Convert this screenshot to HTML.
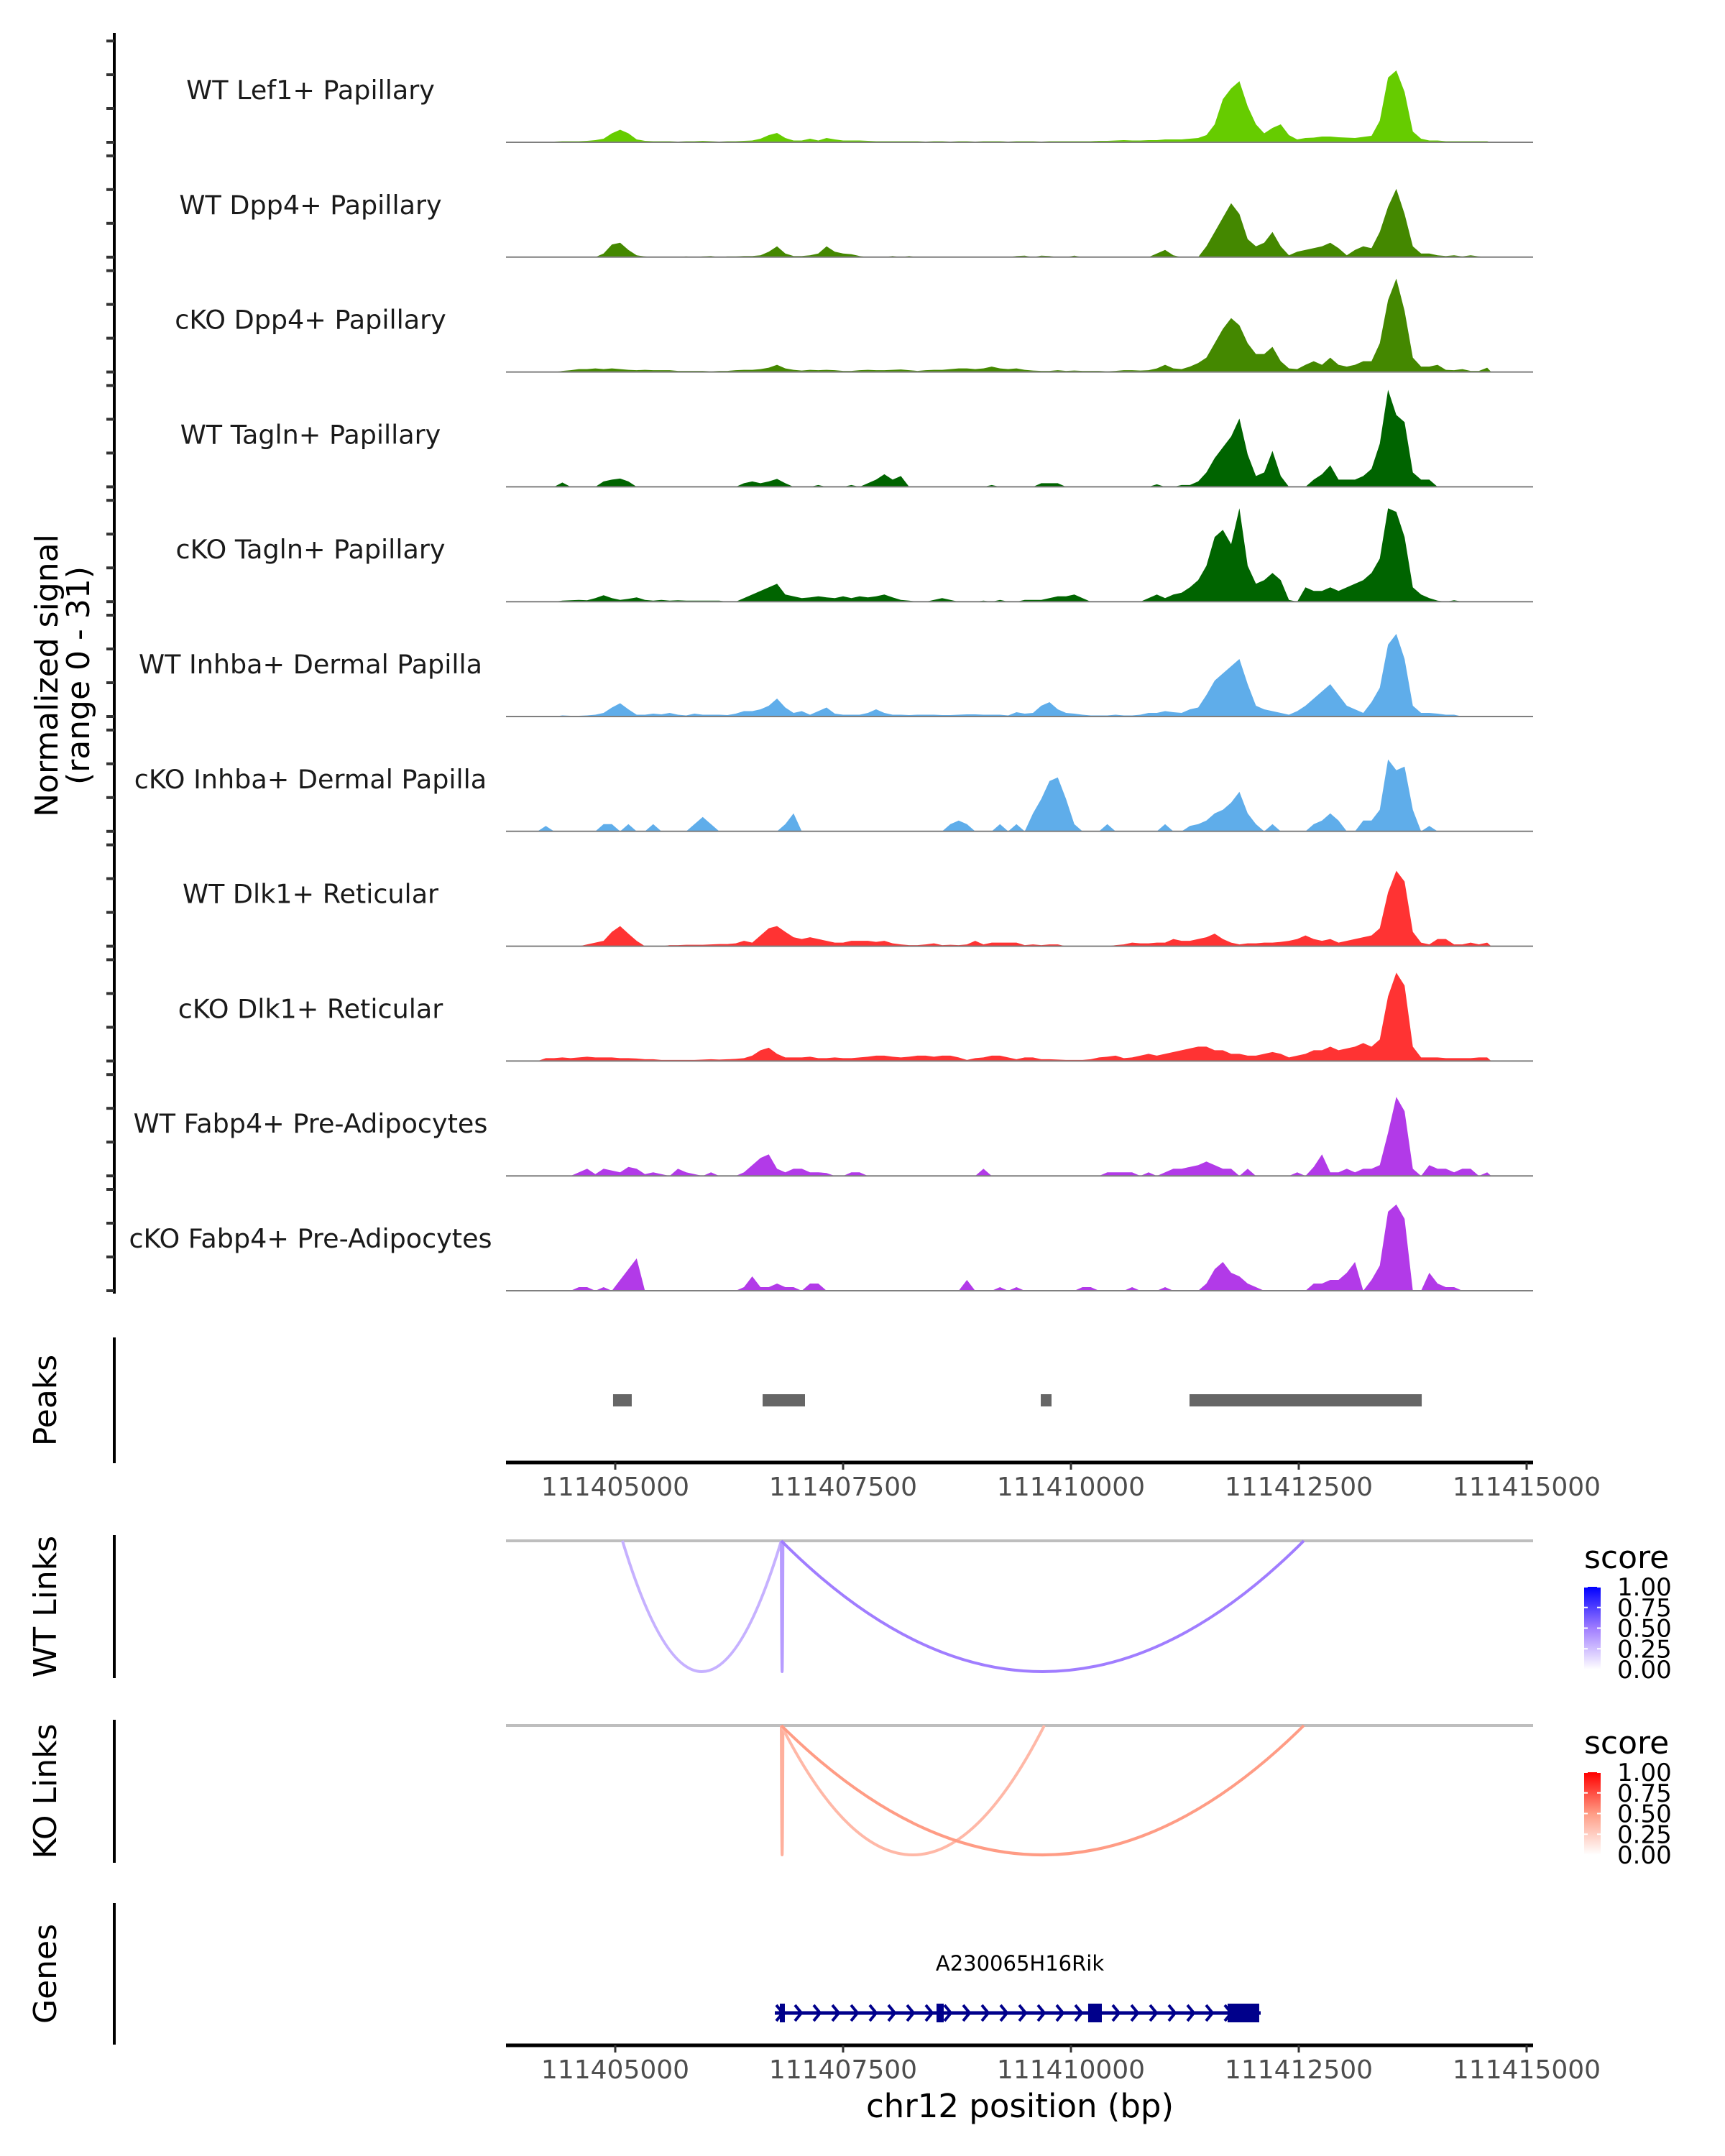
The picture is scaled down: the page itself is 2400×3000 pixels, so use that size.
<!DOCTYPE html>
<html><head><meta charset="utf-8">
<style>
html,body{margin:0;padding:0;background:#fff;}
svg{display:block;font-family:"DejaVu Sans","Liberation Sans",sans-serif;}
</style></head>
<body>
<svg id="chart" width="2400" height="3000" viewBox="0 0 2400 3000" xmlns="http://www.w3.org/2000/svg">
<defs>
<linearGradient id="gradWT" x1="0" y1="1" x2="0" y2="0"><stop offset="0" stop-color="#ffffff"/><stop offset="0.5" stop-color="#a07dff"/><stop offset="1" stop-color="#0000ff"/></linearGradient>
<linearGradient id="gradKO" x1="0" y1="1" x2="0" y2="0"><stop offset="0" stop-color="#ffffff"/><stop offset="0.5" stop-color="#ff9c85"/><stop offset="1" stop-color="#ff0000"/></linearGradient>
</defs>
<g id="tracks"></g>
<g id="leftaxis"></g>
<text transform="translate(80,940) rotate(-90)" text-anchor="middle" font-size="44" fill="#000">Normalized signal</text>
<text transform="translate(124,940) rotate(-90)" text-anchor="middle" font-size="44" fill="#000">(range 0 - 31)</text>
<g id="peaks"></g>
<g id="links"></g>
<g id="genes"></g>
</svg>
<script>
const binStart = 111403740;
const binSize = 90.6;
const ymax = 31;
const trackNames = ["WT Lef1+ Papillary","WT Dpp4+ Papillary","cKO Dpp4+ Papillary","WT Tagln+ Papillary","cKO Tagln+ Papillary","WT Inhba+ Dermal Papilla","cKO Inhba+ Dermal Papilla","WT Dlk1+ Reticular","cKO Dlk1+ Reticular","WT Fabp4+ Pre-Adipocytes","cKO Fabp4+ Pre-Adipocytes"];
const trackColors = ["#66cc00","#448800","#448800","#006400","#006400","#5fadea","#5fadea","#ff3333","#ff3333","#b23ae8","#b23ae8"];
const sigLef1WT = [0,0,0,0,0,0,0.2,0.3,0.3,0.3, 0.4,0.6,1,2.5,3.5,2.5,0.8,0.4,0.3,0.3, 0.3,0.2,0.3,0.3,0.4,0.3,0.2,0.3,0.3,0.4, 0.5,1,2,2.6,1.2,0.5,0.5,1,0.5,1.2, 0.8,0.5,0.5,0.5,0.4,0.3,0.3,0.3,0.3,0.3, 0.3,0.2,0.3,0.3,0.2,0.3,0.3,0.2,0.3,0.3, 0.3,0.2,0.3,0.3,0.3,0.2,0.3,0.3,0.3,0.3, 0.3,0.3,0.4,0.4,0.5,0.6,0.5,0.5,0.6,0.6, 0.8,0.8,0.8,1,1.2,2,5,12,15,17, 10,5,2.5,4,5,2,0.8,1.2,1.3,1.6, 1.6,1.4,1.3,1.2,1.5,1.8,6,18,20,14, 3,1,0.5,0.5,0.3,0.3,0.3,0.3,0.3,0.3];
const sigDpp4WT = [0,0,0,0,0,0,0,0,0,0, 0,0,1,3.5,4,2,0.5,0.2,0,0, 0,0,0.2,0,0.2,0.3,0,0.2,0.2,0.3, 0.3,0.5,1.5,3,1,0.3,0.3,0.5,1,3, 1.5,1,0.8,0.3,0,0,0,0.3,0,0.3, 0,0,0,0,0,0,0,0,0,0, 0,0,0.3,0.4,0,0.4,0.3,0,0,0.4, 0,0,0,0,0,0,0,0,0,1, 2,0.5,0,0,0,3,7,11,15,12, 5,3,4,7,3,0.5,1.5,2,2.5,3, 4,2.5,0.5,2,3,2.5,7,14,19,12, 3,1,1,0.5,0.3,0.5,0.2,0.5,0.2,0];
const sigDpp4KO = [0,0,0,0,0,0,0,0.3,0.5,0.8, 0.8,1,0.8,1,0.8,0.6,0.5,0.6,0.5,0.5, 0.5,0.3,0.3,0.3,0.3,0.2,0.3,0.3,0.5,0.6, 0.6,0.8,1.2,2,1,0.6,0.4,0.6,0.5,0.6, 0.5,0.3,0.3,0.5,0.6,0.5,0.5,0.6,0.7,0.5, 0.3,0.5,0.6,0.6,0.8,1,1,0.8,1,1.5, 1,0.8,1,0.6,0.4,0.3,0.3,0.5,0.3,0.4, 0.3,0.3,0.3,0.2,0.3,0.5,0.5,0.4,0.5,1, 2,1,0.8,1.5,2.5,4,8,12,15,13, 8,5,5,7,3,1,0.8,2,3,2, 4,2,1.5,2,3,3,8,20,26,17, 4,1.5,1.5,2,0.6,0.5,0.8,0.3,0.3,1.2];
const sigTaglnWT = [0,0,0,0,0,0,0,1.2,0,0, 0,0,1.5,2,2.3,1.5,0,0,0,0, 0,0,0,0,0,0,0,0,0,1, 1.5,1,1.5,2.2,1,0,0,0,0.5,0, 0,0,0.5,0,1,2,3.5,2,3,0, 0,0,0,0,0,0,0,0,0,0.5, 0,0,0,0,0,1,1,1,0,0, 0,0,0,0,0,0,0,0,0,0.7, 0,0,0.5,0.5,1.5,4,8,11,14,19, 9,3,4,10,3,0,0,0,2,3.5, 6,2,2,2,3,5,12,27,20,18, 4,2,2,0,0,0,0,0,0,0];
const sigTaglnKO = [0,0,0,0,0,0,0,0.3,0.4,0.5, 0.4,1,1.8,1,0.5,0.8,1.2,0.5,0.3,0.5, 0.3,0.4,0.3,0.3,0.3,0.3,0.3,0,0,1, 2,3,4,5,2,1.5,1,1.2,1.5,1.2, 1,1.5,1,1.5,1.2,1.5,2,1.2,0.5,0.3, 0,0,0.5,1,0.5,0,0,0,0.3,0, 0.5,0,0,0.5,0.5,0.5,1,1.5,1.5,2, 1,0,0,0,0,0,0,0,1,2, 1,2,2.5,4,6,10,18,20,16,26, 10,5,6,8,6,0.5,0,4,3,3, 4,3,4,5,6,8,12,26,25,18, 4,2,1,0.3,0,0.4,0,0,0,0];
const sigInhbaWT = [0,0,0,0,0,0,0,0.3,0.2,0.2, 0.3,0.5,1,2.5,3.7,2,0.5,0.5,0.8,0.6, 1,0.5,0.3,0.8,0.5,0.5,0.5,0.4,0.8,1.5, 1.5,2,3,5,2.5,1,1.5,0.5,1.5,2.5, 0.8,0.5,0.5,0.5,1,2,1,0.5,0.5,0.4, 0.5,0.5,0.5,0.4,0.4,0.5,0.6,0.6,0.5,0.5, 0.5,0.3,1.2,0.8,1,3,4,2,1,0.8, 0.5,0.3,0.3,0.3,0.5,0.3,0.3,0.5,1,1, 1.5,1.2,1,2,2.5,6,10,12,14,16, 9,3,2,1.5,1,0.5,1.5,3,5,7, 9,6,3,2,1,4,8,20,23,16, 3,1,1,0.8,0.5,0.5,0,0,0,0];
const sigInhbaKO = [0,0,0,0,0,1.5,0,0,0,0, 0,0,2,2,0,2,0,0,2,0, 0,0,0,2,4,2,0,0,0,0, 0,0,0,0,2,5,0,0,0,0, 0,0,0,0,0,0,0,0,0,0, 0,0,0,0,2,3,2,0,0,0, 2,0,2,0,5,9,14,15,9,2, 0,0,0,2,0,0,0,0,0,0, 2,0,0,1.5,2,3,5,6,8,11, 5,2,0,2,0,0,0,0,2,3, 5,3,0,0,3,3,6,20,17,18, 6,0,1.5,0,0,0,0,0,0,0];
const sigDlk1WT = [0,0,0,0,0,0,0,0,0,0, 0.5,1,1.5,4,5.6,3.5,1.5,0,0,0, 0.3,0.3,0.4,0.4,0.4,0.5,0.6,0.6,0.8,1.5, 1,3,5,5.6,4,2.5,2,2.5,2,1.5, 1,1,1.5,1.5,1.5,1.2,1.5,0.8,0.5,0.3, 0.3,0.5,0.8,0.3,0.4,0.3,0.5,1.5,0.5,1, 1,1,1,0.3,0.5,0.3,0.5,0.5,0,0, 0,0,0,0,0.3,0.5,1,0.8,0.8,1, 1,2,1.5,1.5,2,2.5,3.5,2,1,0.5, 0.8,0.8,1,1,1.2,1.5,2,3,2,1.5, 2,1,1.5,2,2.5,3,5,15,21,18, 4,1,0.5,2,2,0.5,0.5,1,0.5,1];
const sigDlk1KO = [0,0,0,0,0,0.8,0.8,1,0.8,1, 1.2,1,1,1,0.8,0.8,0.7,0.5,0.5,0.3, 0.3,0.3,0.3,0.3,0.4,0.5,0.4,0.5,0.6,0.8, 1.5,3,3.7,2,1,1,1,1.2,0.8,0.8, 1,0.8,0.8,1,1.2,1.5,1.5,1.2,1,1.2, 1.5,1.5,1.2,1.5,1.5,1,0.3,0.8,1,1.5, 1.5,1,0.5,1,1,0.5,0.5,0.4,0.3,0.3, 0.3,0.5,1,1.2,1.5,0.8,1,1.5,2,1.5, 2,2.5,3,3.5,4,4,3,3,2,2, 1.5,1.5,2,2.5,2,1,1.5,2,3,3, 4,3,3.5,4,5,4,6,18,24.6,21, 4,1,1,1,0.8,0.8,0.8,0.8,1,1];
const sigFabp4WT = [0,0,0,0,0,0,0,0,0,1, 2,0.5,2,1.5,1,2.5,2,0.5,1,0.5, 0,2,1,0.5,0,1,0,0,0,1, 3,5,6,2,1,2,2,1,1,0.8, 0,0,1,1,0,0,0,0,0,0, 0,0,0,0,0,0,0,0,2,0, 0,0,0,0,0,0,0,0,0,0, 0,0,0,1,1,1,1,0,1,0, 1,2,2,2.5,3,4,3,2,2,0, 2,0,0,0,0,0,1,0,2.5,6, 1,1,2,1,2,2,3,12,22,18, 2,0,3,2,2,1,2,2,0,1];
const sigFabp4KO = [0,0,0,0,0,0,0,0,0,1, 1,0,1,0,3,6,9,0,0,0, 0,0,0,0,0,0,0,0,0,1, 4,1,1,2,1,1,0,2,2,0, 0,0,0,0,0,0,0,0,0,0, 0,0,0,0,0,0,3,0,0,0, 1,0,1,0,0,0,0,0,0,0, 1,1,0,0,0,0,1,0,0,0, 1,0,0,0,0,2,6,8,5,4, 2,1,0,0,0,0,0,0,2,2, 3,3,5,8,0,3,7,22,24,20, 0,0,5,2,1,1,0,0,0,0];
const signals = [sigLef1WT,sigDpp4WT,sigDpp4KO,sigTaglnWT,sigTaglnKO,sigInhbaWT,sigInhbaKO,sigDlk1WT,sigDlk1KO,sigFabp4WT,sigFabp4KO];
const peakStarts = [111404976, 111406617, 111409669, 111411301];
const peakEnds   = [111405181, 111407082, 111409787, 111413849];
const xTicks = [111405000, 111407500, 111410000, 111412500, 111415000];
const xTickLabels = ["111405000","111407500","111410000","111412500","111415000"];
const wtLinkStart = [111405079, 111406822, 111406822];
const wtLinkEnd   = [111406822, 111406840, 111412555];
const wtLinkScore = [0.3, 0.38, 0.5];
const koLinkStart = [111406822, 111406822, 111406822];
const koLinkEnd   = [111406840, 111409708, 111412555];
const koLinkScore = [0.4, 0.36, 0.5];
const legendTicks = [0, 0.25, 0.5, 0.75, 1];
const legendLabels = ["0.00","0.25","0.50","0.75","1.00"];
const geneName = "A230065H16Rik";
const geneStart = 111406751;
const geneEnd = 111412082;
const exonStarts = [111406806, 111408525, 111410189, 111411719];
const exonEnds   = [111406861, 111408604, 111410339, 111412066];

const NS = "http://www.w3.org/2000/svg";
const X0 = 704, X1 = 2133;
function xs(bp){ return 856 + (bp - 111405000) * 0.1268; }
function mk(tag, attrs, parent){ const e = document.createElementNS(NS, tag); for (const k in attrs) e.setAttribute(k, attrs[k]); parent.appendChild(e); return e; }

const gT = document.getElementById('tracks');
const base0 = 198, step = 159.8, hScale = 155;
signals.forEach(function(vals, k){
  const b = base0 + step * k;
  const g = mk('g', {}, gT);
  
  
  let pts = [];
  pts.push(xs(binStart).toFixed(1) + ',' + b);
  vals.forEach(function(v, i){
    const xc = xs(binStart + (i + 0.5) * binSize);
    const y = b - v / ymax * hScale;
    pts.push(xc.toFixed(1) + ',' + y.toFixed(1));
  });
  pts.push(xs(binStart + vals.length * binSize).toFixed(1) + ',' + b);
  const p = mk('polygon', {points: pts.join(' '), fill: trackColors[k]}, g);
  
  
  const ln = mk('line', {x1: X0, x2: X1, y1: b, y2: b, stroke: '#7f7f7f', 'stroke-width': 2}, g);
  
  
  const t = mk('text', {x: 432, y: b - 60, 'text-anchor': 'middle', 'font-size': 36.5, fill: '#1a1a1a'}, g);
  t.textContent = trackNames[k];
  
  
});

const gA = document.getElementById('leftaxis');
mk('line', {x1: 159, x2: 159, y1: 46, y2: 1800, stroke: '#000', 'stroke-width': 4}, gA);
for (let k = 0; k < signals.length; k++) {
  const b = base0 + step * k;
  for (let j = 0; j < 4; j++) {
    const y = b - j * 47;
    mk('line', {x1: 148, x2: 159, y1: y, y2: y, stroke: '#333', 'stroke-width': 4}, gA);
  }
}

function sidePanel(g, y1, y2, label, name){
  mk('line', {x1: 159, x2: 159, y1: y1, y2: y2, stroke: '#000', 'stroke-width': 4}, g);
  const cy = (y1 + y2) / 2;
  const t = mk('text', {transform: 'translate(78,' + cy + ') rotate(-90)', 'text-anchor': 'middle', 'font-size': 44, fill: '#000'}, g);
  t.textContent = label;
  
  
}
function xAxis(g, y){
  mk('line', {x1: X0, x2: X1, y1: y, y2: y, stroke: '#000', 'stroke-width': 5}, g);
  xTicks.forEach(function(v, i){
    const x = xs(v);
    mk('line', {x1: x, x2: x, y1: y, y2: y + 10, stroke: '#333', 'stroke-width': 3}, g);
    const t = mk('text', {x: x, y: y + 46, 'text-anchor': 'middle', 'font-size': 36, fill: '#4d4d4d'}, g);
    t.textContent = xTickLabels[i];
    
    
  });
}

const gP = document.getElementById('peaks');
sidePanel(gP, 1861, 2036, 'Peaks', 'peaks-title');
peakStarts.forEach(function(s, i){
  const r = mk('rect', {x: xs(s), y: 1940, width: xs(peakEnds[i]) - xs(s), height: 17, fill: '#666666'}, gP);
  
  
});
xAxis(gP, 2035);

function mixColor(t, mid, end){
  function h(c){ return [parseInt(c.substr(1,2),16), parseInt(c.substr(3,2),16), parseInt(c.substr(5,2),16)]; }
  let a, bb, u;
  if (t <= 0.5) { a = [255,255,255]; bb = h(mid); u = t / 0.5; } else { a = h(mid); bb = h(end); u = (t - 0.5) / 0.5; }
  const c = a.map(function(v, i){ return Math.round(v + (bb[i] - v) * u); });
  return 'rgb(' + c.join(',') + ')';
}
const gL = document.getElementById('links');
function linkPanel(y0, depth, starts, ends, scores, mid, end, label, name, grad, legY){
  const g = mk('g', {}, gL);
  
  
  sidePanel(g, y0 - 8, y0 + 191, label, name + '-title');
  mk('line', {x1: X0, x2: X1, y1: y0, y2: y0, stroke: '#bebebe', 'stroke-width': 4}, g);
  starts.forEach(function(s, i){
    const xa = xs(s), xb = xs(ends[i]), xm = (xa + xb) / 2;
    const p = mk('path', {d: 'M' + xa + ',' + y0 + ' Q' + xm + ',' + (y0 + 2 * depth) + ' ' + xb + ',' + y0, fill: 'none', stroke: mixColor(scores[i], mid, end), 'stroke-width': 4}, g);
    
    
  });
  const st = mk('text', {x: 2204, y: legY, 'font-size': 44, fill: '#000'}, g);
  st.textContent = 'score';
  
  
  const bt = legY + 26, bh = 115;
  mk('rect', {x: 2204, y: bt, width: 23, height: bh, fill: 'url(#' + grad + ')'}, g);
  legendTicks.forEach(function(v, i){
    const y = bt + bh - v * bh;
    mk('line', {x1: 2204, x2: 2209, y1: y, y2: y, stroke: '#fff', 'stroke-width': 2}, g);
    mk('line', {x1: 2222, x2: 2227, y1: y, y2: y, stroke: '#fff', 'stroke-width': 2}, g);
    const t = mk('text', {x: 2250, y: y + 12, 'font-size': 34, fill: '#000'}, g);
    t.textContent = legendLabels[i];
    
    
  });
}
linkPanel(2144, 182, wtLinkStart, wtLinkEnd, wtLinkScore, '#a07dff', '#0000ff', 'WT Links', 'wt-links', 'gradWT', 2182);
linkPanel(2401, 180, koLinkStart, koLinkEnd, koLinkScore, '#ff9c85', '#ff0000', 'KO Links', 'ko-links', 'gradKO', 2440);

const gG = document.getElementById('genes');
sidePanel(gG, 2648, 2845, 'Genes', 'genes-title');
const gy = 2801;
const gl = mk('line', {x1: xs(geneStart), x2: xs(geneEnd), y1: gy, y2: gy, stroke: '#00008b', 'stroke-width': 5}, gG);


for (let x = xs(geneStart) + 2; x < xs(geneEnd) - 10; x += 26) {
  mk('polyline', {points: (x) + ',' + (gy - 11) + ' ' + (x + 9) + ',' + gy + ' ' + (x) + ',' + (gy + 11), fill: 'none', stroke: '#00008b', 'stroke-width': 4}, gG);
}
exonStarts.forEach(function(s, i){
  const r = mk('rect', {x: xs(s), y: 2788, width: Math.max(6, xs(exonEnds[i]) - xs(s)), height: 26, fill: '#00008b'}, gG);
  
  
});
const gn = mk('text', {x: 1419, y: 2742, 'text-anchor': 'middle', 'font-size': 29, fill: '#000'}, gG);
gn.textContent = geneName;


xAxis(gG, 2846);
const xt = mk('text', {x: 1419, y: 2946, 'text-anchor': 'middle', 'font-size': 45, fill: '#000'}, gG);
xt.textContent = 'chr12 position (bp)';


</script>
</body></html>
